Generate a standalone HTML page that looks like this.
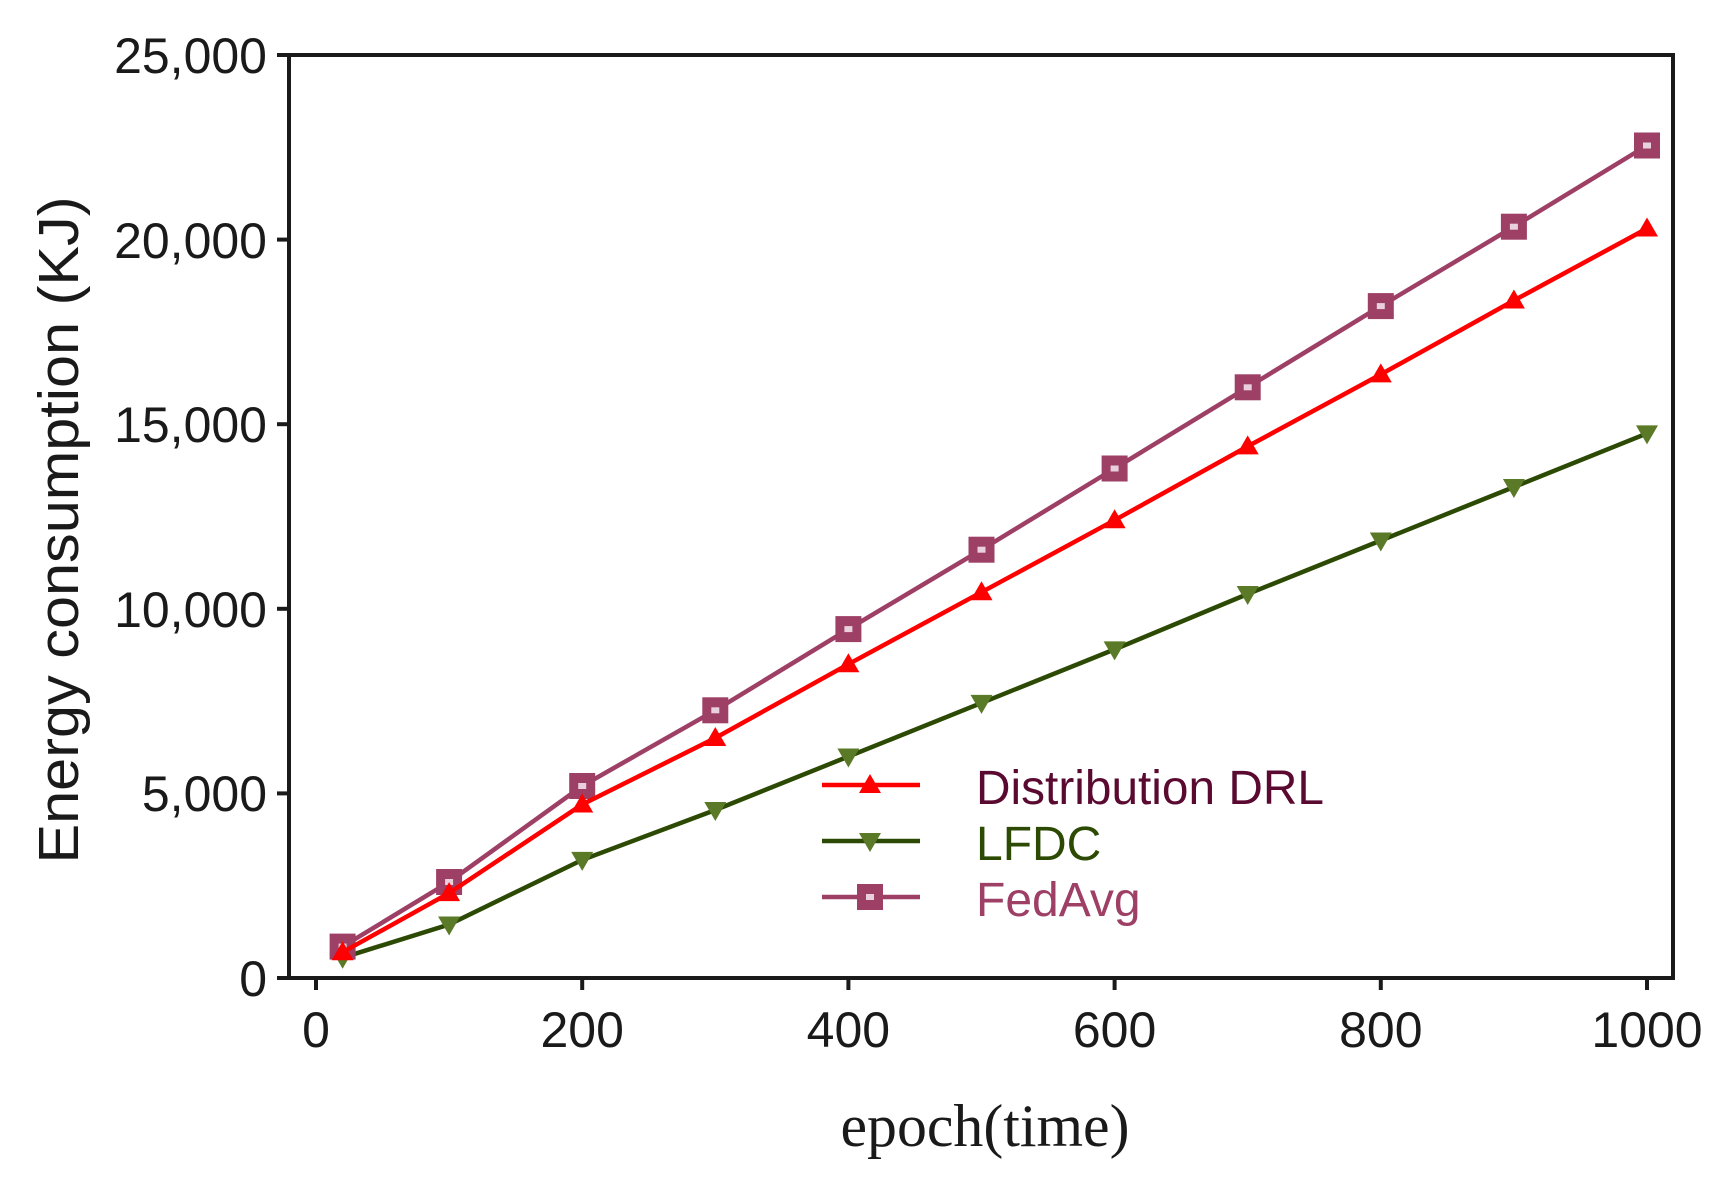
<!DOCTYPE html>
<html><head><meta charset="utf-8"><style>html,body{margin:0;padding:0;background:#fff}svg{display:block}</style></head>
<body>
<svg width="1721" height="1186" viewBox="0 0 1721 1186" xmlns="http://www.w3.org/2000/svg">
<defs>
<marker id="sq" markerUnits="userSpaceOnUse" markerWidth="30" markerHeight="30" refX="15" refY="15" overflow="visible">
<rect x="2" y="2" width="26" height="26" fill="#9e3f66"/><rect x="11" y="12" width="8" height="6" fill="#e8d0dc"/></marker>
<marker id="tu" markerUnits="userSpaceOnUse" markerWidth="30" markerHeight="30" refX="15" refY="15" overflow="visible">
<polygon points="15,4 26,23 4,23" fill="#ff0000"/></marker>
<marker id="td" markerUnits="userSpaceOnUse" markerWidth="30" markerHeight="30" refX="15" refY="15" overflow="visible">
<polygon points="4,7 26,7 15,26" fill="#5a7a28"/></marker>
</defs>
<g font-family="Liberation Sans, sans-serif" fill="#1a1a1a">
<rect x="289" y="55" width="1384" height="923" fill="none" stroke="#1a1a1a" stroke-width="4"/>
<g stroke="#1a1a1a" stroke-width="4">
<line x1="277" y1="978" x2="289" y2="978"/><line x1="277" y1="793.4" x2="289" y2="793.4"/>
<line x1="277" y1="608.8" x2="289" y2="608.8"/><line x1="277" y1="424.2" x2="289" y2="424.2"/>
<line x1="277" y1="239.6" x2="289" y2="239.6"/><line x1="277" y1="55" x2="289" y2="55"/>
<line x1="316" y1="978" x2="316" y2="990"/><line x1="582.2" y1="978" x2="582.2" y2="990"/>
<line x1="848.4" y1="978" x2="848.4" y2="990"/><line x1="1114.6" y1="978" x2="1114.6" y2="990"/>
<line x1="1380.8" y1="978" x2="1380.8" y2="990"/><line x1="1647" y1="978" x2="1647" y2="990"/>
</g>
<g font-size="50" text-anchor="end">
<text x="267" y="996">0</text><text x="267" y="811">5,000</text><text x="267" y="627">10,000</text>
<text x="267" y="442">15,000</text><text x="267" y="258">20,000</text><text x="267" y="73">25,000</text>
</g>
<g font-size="50" text-anchor="middle">
<text x="316" y="1047">0</text><text x="582.2" y="1047">200</text><text x="848.4" y="1047">400</text>
<text x="1114.6" y="1047">600</text><text x="1380.8" y="1047">800</text><text x="1647" y="1047">1000</text>
</g>
<text transform="translate(78,530) rotate(-90)" font-size="57" text-anchor="middle" textLength="667" lengthAdjust="spacingAndGlyphs">Energy consumption (KJ)</text>
<text x="985" y="1146" font-family="Liberation Serif, serif" font-size="60" text-anchor="middle" textLength="289" lengthAdjust="spacingAndGlyphs">epoch(time)</text>
</g>
<polyline fill="none" stroke="#2d4a05" stroke-width="4.5" marker-start="url(#td)" marker-mid="url(#td)" marker-end="url(#td)"
points="342.6,957.7 449.1,924.5 582.2,859.9 715.3,810 848.4,756.5 981.5,702.9 1114.6,649.4 1247.7,594 1380.8,540.5 1513.9,487 1647,433.4"/>
<polyline fill="none" stroke="#9e3f66" stroke-width="4.5" marker-start="url(#sq)" marker-mid="url(#sq)" marker-end="url(#sq)"
points="342.6,946.6 449.1,882 582.2,786 715.3,710.3 848.4,629.1 981.5,549.7 1114.6,468.5 1247.7,387.3 1380.8,306.1 1513.9,226.7 1647,145.5"/>
<polyline fill="none" stroke="#ff0000" stroke-width="4.5" marker-start="url(#tu)" marker-mid="url(#tu)" marker-end="url(#tu)"
points="342.6,952.2 449.1,893.1 582.2,804.5 715.3,738 848.4,664.2 981.5,592.2 1114.6,520.2 1247.7,446.4 1380.8,374.4 1513.9,300.5 1647,228.5"/>
<polyline points="822,785 870,785 920,785" fill="none" stroke="#ff0000" stroke-width="4.5" marker-mid="url(#tu)"/>
<polyline points="822,841 870,841 920,841" fill="none" stroke="#2d4a05" stroke-width="4.5" marker-mid="url(#td)"/>
<polyline points="822,897 870,897 920,897" fill="none" stroke="#9e3f66" stroke-width="4.5" marker-mid="url(#sq)"/>
<g font-family="Liberation Sans, sans-serif" font-size="48">
<text x="976" y="804" fill="#5a0a30" textLength="348" lengthAdjust="spacingAndGlyphs">Distribution DRL</text>
<text x="976" y="860" fill="#2d4a05">LFDC</text>
<text x="976" y="916" fill="#9e3f66">FedAvg</text>
</g>
</svg>
</body></html>
